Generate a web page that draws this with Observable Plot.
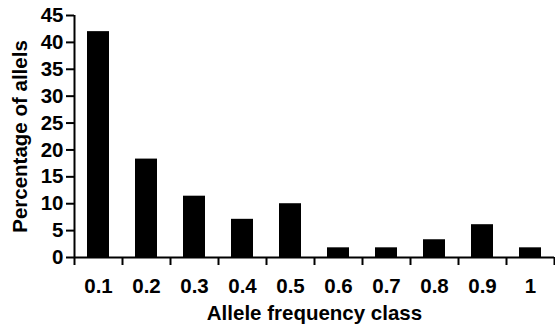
<!DOCTYPE html>
<html>
<head>
<meta charset="utf-8">
<script src="https://cdn.jsdelivr.net/npm/d3@7"></script>
<script src="https://cdn.jsdelivr.net/npm/@observablehq/plot@0.6"></script>
<style>
  html, body { margin: 0; padding: 0; background: #fff; }
</style>
</head>
<body>
<div id="chart"></div>
<script>
// Data
const classLabels = ["0.1", "0.2", "0.3", "0.4", "0.5", "0.6", "0.7", "0.8", "0.9", "1"];
const classUpper = [0.1, 0.2, 0.3, 0.4, 0.5, 0.6, 0.7, 0.8, 0.9, 1.0];
const percentAlleles = [42, 18.3, 11.4, 7.1, 10, 1.8, 1.8, 3.3, 6.1, 1.8];
const yTicks = [0, 5, 10, 15, 20, 25, 30, 35, 40, 45];
const classWidth = 0.1;

const table = classLabels.map((label, i) => ({
  label,
  x1: classUpper[i] - classWidth,
  x2: classUpper[i],
  mid: classUpper[i] - classWidth / 2,
  value: percentAlleles[i]
}));
const boundaries = [0, ...classUpper];
const labelByMid = new Map(table.map(d => [d.mid.toFixed(3), d.label]));

const font = "'Liberation Sans', Arial, sans-serif";
const fs = 20.5;

const chart = Plot.plot({
  width: 555,
  height: 326,
  marginLeft: 74,
  marginRight: 1,
  marginTop: 15,
  marginBottom: 69,
  style: {
    fontFamily: font,
    fontSize: fs + "px",
    fontWeight: "bold",
    color: "#000",
    background: "#fff",
    overflow: "visible"
  },
  x: { domain: [0, 1] },
  y: { domain: [0, 45] },
  marks: [
    Plot.rectY(table, { x1: "x1", x2: "x2", y: "value", fill: "#000", insetLeft: 13, insetRight: 13 }),
    Plot.axisY({
      ticks: yTicks, tickSize: 8, tickPadding: 3, strokeWidth: 2,
      fontSize: fs, fontWeight: "bold", fontFamily: font,
      label: "Percentage of allels", labelAnchor: "center", labelOffset: 62, labelArrow: "none"
    }),
    Plot.axisX({
      ticks: boundaries, tickSize: 8, tickFormat: () => "", strokeWidth: 2, label: null
    }),
    Plot.axisX({
      ticks: table.map(d => d.mid), tickSize: 0, tickPadding: 21,
      fontSize: fs, fontWeight: "bold", fontFamily: font,
      tickFormat: d => labelByMid.get(d.toFixed(3)),
      label: "Allele frequency class", labelAnchor: "center", labelOffset: 62, labelArrow: "none"
    }),
    Plot.ruleY([0], { strokeWidth: 2 }),
    Plot.ruleX([0], { strokeWidth: 2 })
  ]
});
document.getElementById("chart").appendChild(chart);
</script>
</body>
</html>
